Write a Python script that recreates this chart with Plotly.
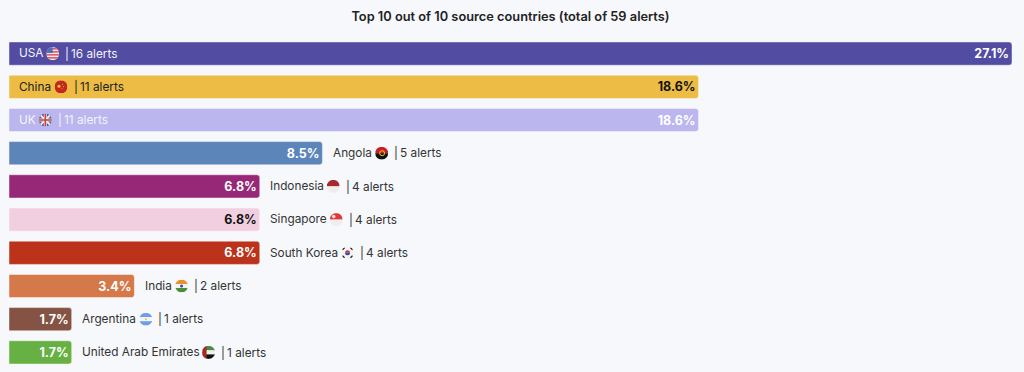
import base64
import plotly.graph_objects as go

countries = ["USA", "China", "UK", "Angola", "Indonesia", "Singapore",
             "South Korea", "India", "Argentina", "United Arab Emirates"]
alerts = [16, 11, 11, 5, 4, 4, 4, 2, 1, 1]
percents = ["27.1%", "18.6%", "18.6%", "8.5%", "6.8%", "6.8%", "6.8%", "3.4%", "1.7%", "1.7%"]
colors = ["#524ca3", "#ecbc45", "#bbb6ee", "#5c85ba", "#962877",
          "#f2cfe0", "#bc331c", "#d5784a", "#855344", "#67b044"]
pct_colors = ["#ffffff", "#111111", "#ffffff", "#ffffff", "#ffffff",
              "#111111", "#ffffff", "#ffffff", "#ffffff", "#ffffff"]
label_inside = [True, True, True, False, False, False, False, False, False, False]
label_colors = ["#f2f2fa", "#222222", "#f4f3fd", "#333333", "#333333",
                "#333333", "#333333", "#333333", "#333333", "#333333"]
flag_offsets = [33.7, 42, 26.3, 48.7, 63, 66, 77.3, 36.7, 63.7, 126.4]

FLAGS = {
    "USA": '<rect width="26" height="26" fill="#f3eeee"/><g fill="#d9505a"><rect y="2" width="26" height="3"/><rect y="8" width="26" height="3"/><rect y="14" width="26" height="3"/><rect y="20" width="26" height="3"/></g><rect width="13" height="12" fill="#4f6fb5"/>',
    "China": '<rect width="26" height="26" fill="#c3281f"/><circle cx="9" cy="12" r="3" fill="#f3c531"/><circle cx="16" cy="8" r="1" fill="#f3c531"/><circle cx="18" cy="13" r="1" fill="#f3c531"/><circle cx="15" cy="17" r="1" fill="#f3c531"/>',
    "UK": '<rect width="26" height="26" fill="#3f5ba0"/><path d="M0 0L26 26M26 0L0 26" stroke="#f2e8e8" stroke-width="4"/><path d="M13 0V26M0 13H26" stroke="#f2e8e8" stroke-width="6"/><path d="M13 0V26M0 13H26" stroke="#cf3a3a" stroke-width="3"/>',
    "Angola": '<rect width="26" height="13" fill="#c81e2a"/><rect y="13" width="26" height="13" fill="#111111"/><circle cx="14" cy="13" r="5" fill="none" stroke="#f0c020" stroke-width="2"/>',
    "Indonesia": '<rect width="26" height="13" fill="#a52a2e"/><rect y="13" width="26" height="13" fill="#f0eded"/>',
    "Singapore": '<rect width="26" height="13" fill="#dd3b3b"/><rect y="13" width="26" height="13" fill="#f0eded"/><circle cx="8" cy="7" r="3.5" fill="#f6e0e0"/>',
    "South Korea": '<rect width="26" height="26" fill="#f3f3f6"/><path d="M8 13a5 5 0 0 1 10 0z" fill="#cf3a3a"/><path d="M8 13a5 5 0 0 0 10 0z" fill="#33509e"/><path d="M3 7L7 3M19 3L23 7M3 19L7 23M19 23L23 19" stroke="#222222" stroke-width="2.5"/>',
    "India": '<rect width="26" height="9" fill="#e8912f"/><rect y="9" width="26" height="8" fill="#f4f2ee"/><rect y="17" width="26" height="9" fill="#4d8c3a"/><circle cx="13" cy="13" r="3" fill="#2f4f9f"/>',
    "Argentina": '<rect width="26" height="9" fill="#6d9eea"/><rect y="9" width="26" height="8" fill="#f4f4f6"/><rect y="17" width="26" height="9" fill="#6d9eea"/><circle cx="13" cy="13" r="2" fill="#eebc45"/>',
    "United Arab Emirates": '<rect width="26" height="9" fill="#4b8a42"/><rect y="9" width="26" height="8" fill="#f3f1ee"/><rect y="17" width="26" height="9" fill="#111111"/><rect width="9" height="26" fill="#a52a22"/>',
}


def flag_uri(name):
    svg = ('<svg xmlns="http://www.w3.org/2000/svg" viewBox="0 0 26 26" width="52" height="52">'
           '<defs><clipPath id="c"><circle cx="13" cy="13" r="13"/></clipPath></defs>'
           f'<g clip-path="url(#c)">{FLAGS[name]}</g></svg>')
    return "data:image/svg+xml;base64," + base64.b64encode(svg.encode()).decode()


W, H = 1024, 372
ML, MR, MT, MB = 9, 12, 36.5, 2.8
xmax = max(alerts)
px_per_unit = (W - ML - MR) / xmax
FONT = "Inter, 'Noto Sans', sans-serif"
rows = list(range(len(countries)))

fig = go.Figure(go.Bar(
    x=alerts, y=rows, orientation="h",
    marker=dict(color=colors, line=dict(color="rgba(255,255,255,0.45)", width=1)),
    text=percents, textposition="inside", insidetextanchor="end", textangle=0,
    constraintext="none",
    textfont=dict(family=FONT, size=12.5, color=pct_colors, weight=700),
    hoverinfo="skip",
))

annotations, images = [], []
for i, name in enumerate(countries):
    base = 0 if label_inside[i] else alerts[i]
    start = 10 if label_inside[i] else 10.5
    off = flag_offsets[i]
    common = dict(xref="x", yref="y", y=i, x=base, showarrow=False, xanchor="left",
                  yanchor="middle", borderpad=0, borderwidth=0,
                  font=dict(family=FONT, size=11.8, color=label_colors[i]))
    annotations.append(dict(text=name, xshift=start, yshift=0.3, **common))
    annotations.append(dict(text=f"|\u2009{alerts[i]} alerts", xshift=start + off + 12.5, yshift=0.3, **common))
    images.append(dict(source=flag_uri(name), xref="x", yref="y",
                       x=base + (start + off) / px_per_unit, y=i,
                       sizex=13 / px_per_unit, sizey=13 / 33.2,
                       xanchor="center", yanchor="middle", layer="above",
                       sizing="contain"))

fig.update_layout(
    width=W, height=H, autosize=False,
    margin=dict(l=ML, r=MR, t=MT, b=MB, pad=0),
    paper_bgcolor="#f7f8fb", plot_bgcolor="#f7f8fb",
    bargap=0.3, barcornerradius=3, showlegend=False,
    title=dict(text="Top 10 out of 10 source countries (total of 59 alerts)",
               x=0.5, xref="paper", xanchor="center", y=1 - 17 / H, yanchor="middle",
               font=dict(family=FONT, size=12.8, color="#222222", weight=600)),
    xaxis=dict(range=[0, xmax], visible=False, fixedrange=True),
    yaxis=dict(range=[len(countries) - 0.5, -0.5], visible=False, fixedrange=True),
    annotations=annotations, images=images,
)

fig.write_html("out.html", config={"displayModeBar": False},
               post_script="document.body.style.margin='0';document.body.style.overflow='hidden';document.body.style.background='#f7f8fb';")
